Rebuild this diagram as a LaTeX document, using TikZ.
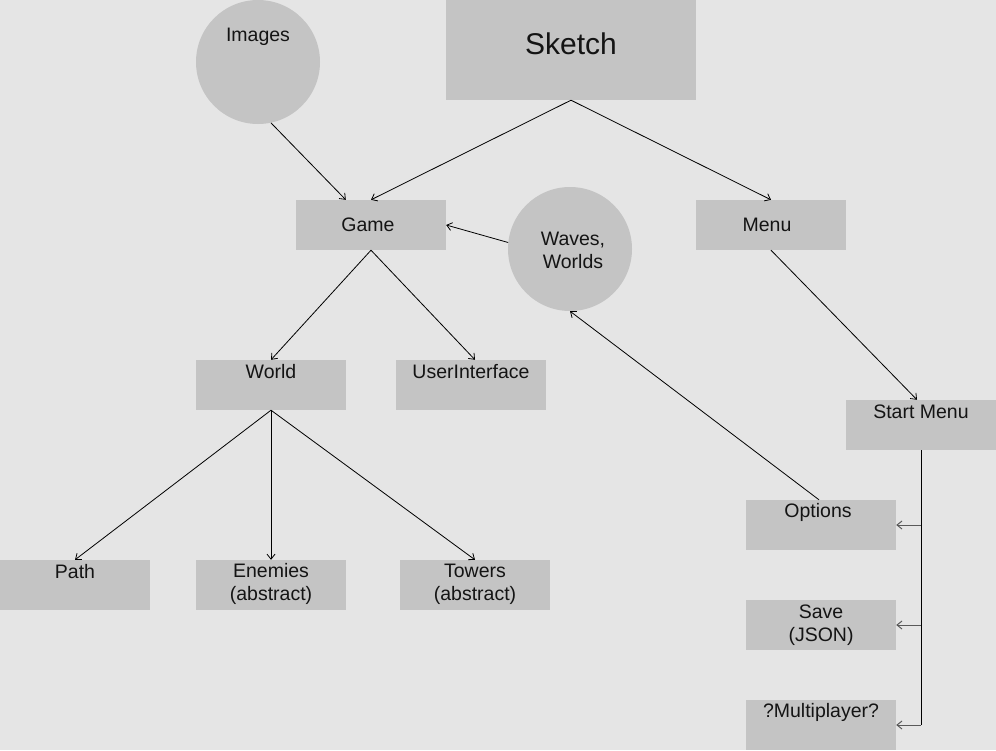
\documentclass[tikz,border=0pt]{standalone}
\usepackage{fontspec}
\setmainfont{Liberation Sans}
\usetikzlibrary{arrows.meta,calc}
\begin{document}
\begin{tikzpicture}[x=1pt,y=-1pt,
  box/.style={fill=boxgray,draw=none,minimum width=150pt,minimum height=50pt,inner sep=0pt},
  blob/.style={circle,fill=boxgray,draw=none,minimum size=124pt,inner sep=0pt},
  txt/.style={font=\fontsize{19.5}{23}\selectfont,align=center,inner sep=0pt,text=black!92},
  arr/.style={-{Straight Barb[length=5pt,width=8pt]},line width=0.8pt,black},
  stub/.style={-{Straight Barb[length=5pt,width=8pt]},line width=1pt,black!65}]
\definecolor{boxgray}{HTML}{C4C4C4}
\fill[fill={rgb,255:red,229;green,229;blue,229}] (0,0) rectangle (996,750);
\useasboundingbox (0,0) rectangle (996,750);
% boxes
\node[box,minimum width=250pt,minimum height=100pt] (Sketch) at (571,50) {};
\node[txt,font=\fontsize{30}{34}\selectfont] (tSketch) at (571,44) {Sketch};
\node[blob] (Images) at (258,62) {};
\node[txt] (tImages) at (258,37) {Images};
\node[box] (Game) at (371,225) {};
\node[txt] (tGame) at (368,225) {Game};
\node[blob] (Waves) at (570,249) {};
\node[txt] (tWaves) at (573,250) {Waves,\\Worlds};
\node[box] (Menu) at (771,225) {};
\node[txt] (tMenu) at (767,225) {Menu};
\node[box] (World) at (271,385) {};
\node[txt] (tWorld) at (271,372) {World};
\node[box] (UI) at (471,385) {};
\node[txt] (tUI) at (471,372) {UserInterface};
\node[box] (Start) at (921,425) {};
\node[txt] (tStart) at (921,412) {Start Menu};
\node[box] (Opt) at (821,525) {};
\node[txt] (tOpt) at (818,512) {Options};
\node[box] (Save) at (821,625) {};
\node[txt] (tSave) at (821,625) {Save\\(JSON)};
\node[box] (Multi) at (821,725) {};
\node[txt] (tMulti) at (821,712) {?Multiplayer?};
\node[box] (Path) at (75,585) {};
\node[txt] (tPath) at (75,572) {Path};
\node[box] (Enem) at (271,585) {};
\node[txt] (tEnem) at (271,584) {Enemies\\(abstract)};
\node[box] (Tow) at (475,585) {};
\node[txt] (tTow) at (475,584) {Towers\\(abstract)};
% connectors
\draw[arr] (Sketch.south) -- (Game.north);
\draw[arr] (Sketch.south) -- (Menu.north);
\draw[arr] (Images.-78) -- ($(Game.north west)+(50,0)$);
\draw[arr] (Waves.174) -- (Game.east);
\draw[arr] (Game.south) -- ($(UI.north)+(4,0)$);
\draw[arr] (Game.south) -- (World.north);
\draw[arr] (Menu.south) -- ($(Start.north)+(-4,0)$);
\draw[arr] (World.south) -- (Path.north);
\draw[arr] (World.south) -- (Enem.north);
\draw[arr] (World.south) -- (Tow.north);
\draw[arr] ($(Opt.north)+(-2,0)$) -- (Waves.south);
\draw[line width=1pt] (Start.south) -- (Start.south |- Multi.east);
\draw[stub] (Start.south |- Opt.east) -- (Opt.east);
\draw[stub] (Start.south |- Save.east) -- (Save.east);
\draw[stub] (Start.south |- Multi.east) -- (Multi.east);
\end{tikzpicture}
\end{document}
